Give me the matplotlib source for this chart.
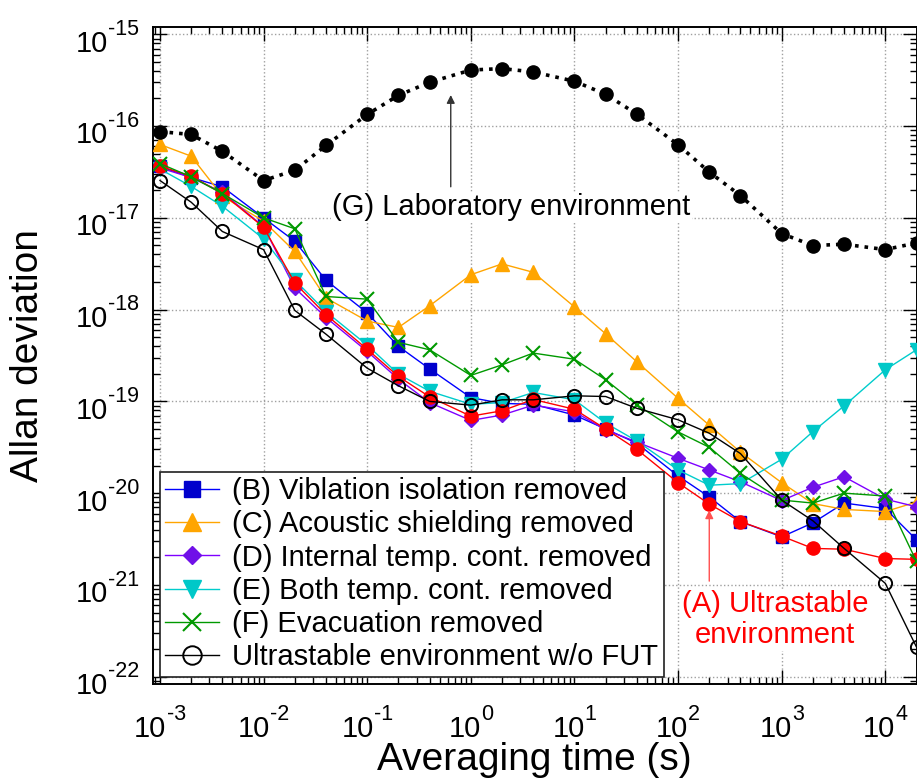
import matplotlib
matplotlib.use("Agg")
import matplotlib.pyplot as plt
from matplotlib.ticker import LogLocator, NullFormatter
from matplotlib.transforms import blended_transform_factory, offset_copy

plt.rcParams['font.family'] = ['Liberation Sans', 'DejaVu Sans']

tau = [1e-3, 2e-3, 4e-3, 1e-2, 2e-2, 4e-2, 0.1, 0.2, 0.4, 1, 2, 4, 10, 20, 40,
       100, 200, 400, 1e3, 2e3, 4e3, 1e4, 2e4]

adev_B = [3.65e-17, 2.75e-17, 2.18e-17, 1.0e-17, 5.56e-18, 2.09e-18, 9.2e-19, 3.98e-19,
          2.26e-19, 1.1e-19, 9.5e-20, 9.3e-20, 7.1e-20, 5.0e-20, 3.5e-20, 1.54e-20,
          9.1e-21, 4.9e-21, 3.34e-21, 4.75e-21, 7.8e-21, 6.8e-21, 3.1e-21]
adev_C = [6.3e-17, 4.7e-17, 1.72e-17, 9.2e-18, 4.3e-18, 1.34e-18, 7.5e-19, 6.4e-19,
          1.1e-18, 2.4e-18, 3.15e-18, 2.55e-18, 1.07e-18, 5.45e-19, 2.7e-19, 1.08e-19,
          5.5e-20, 2.8e-20, 1.3e-20, 7.7e-21, 6.65e-21, 6.3e-21, 8.0e-21]
adev_D = [3.5e-17, 2.75e-17, 1.9e-17, 8.0e-18, 1.72e-18, 8.2e-19, 3.5e-19, 1.75e-19,
          9.7e-20, 6.2e-20, 7.1e-20, 9.1e-20, 7.7e-20, 4.9e-20, 3.6e-20, 2.4e-20,
          1.79e-20, 1.33e-20, 8.3e-21, 1.16e-20, 1.51e-20, 8.6e-21, 7.1e-21]
adev_E = [3.4e-17, 2.2e-17, 1.34e-17, 5.9e-18, 2.1e-18, 9.5e-19, 4.1e-19, 1.98e-19,
          1.29e-19, 9.3e-20, 9.7e-20, 1.25e-19, 1.04e-19, 5.8e-20, 3.7e-20, 1.79e-20,
          1.22e-20, 1.27e-20, 2.34e-20, 4.68e-20, 8.93e-20, 2.21e-19, 3.65e-19]
adev_F = [3.9e-17, 2.8e-17, 1.84e-17, 1.0e-17, 7.6e-18, 1.39e-18, 1.3e-18, 4.4e-19,
          3.65e-19, 1.92e-19, 2.5e-19, 3.36e-19, 2.88e-19, 1.72e-19, 9.2e-20, 4.65e-20,
          3.16e-20, 1.64e-20, 8.4e-21, 7.8e-21, 1.0e-20, 9.3e-21, 1.8e-21]
adev_A = [3.65e-17, 2.85e-17, 1.84e-17, 7.9e-18, 1.95e-18, 8.8e-19, 3.7e-19, 1.87e-19,
          1.12e-19, 6.9e-20, 7.9e-20, 1.05e-19, 8.2e-20, 5.0e-20, 3.0e-20, 1.3e-20,
          7.6e-21, 4.9e-21, 3.4e-21, 2.5e-21, 2.45e-21, 1.94e-21, 1.9e-21]
adev_noFUT = [2.55e-17, 1.48e-17, 7.1e-18, 4.5e-18, 9.8e-19, 5.4e-19, 2.3e-19, 1.48e-19,
              1.0e-19, 9.1e-20, 1.04e-19, 1.04e-19, 1.15e-19, 1.13e-19, 8.4e-20, 6.3e-20,
              4.5e-20, 2.7e-20, 8.4e-21, 5.0e-21, 2.5e-21, 1.04e-21, 2.1e-22]
adev_G = [8.7e-17, 8.1e-17, 5.3e-17, 2.55e-17, 3.3e-17, 6.15e-17, 1.34e-16, 2.16e-16,
          3.0e-16, 4.08e-16, 4.23e-16, 3.89e-16, 3.08e-16, 2.22e-16, 1.35e-16, 6.26e-17,
          3.15e-17, 1.75e-17, 6.74e-18, 4.99e-18, 5.16e-18, 4.51e-18, 5.33e-18]

labels = ["(B) Viblation isolation removed",
          "(C) Acoustic shielding removed",
          "(D) Internal temp. cont. removed",
          "(E) Both temp. cont. removed",
          "(F) Evacuation removed",
          "Ultrastable environment w/o FUT"]

x_exponents = [-3, -2, -1, 0, 1, 2, 3, 4]
y_exponents = [-22, -21, -20, -19, -18, -17, -16, -15]

fig = plt.figure(figsize=(9.17, 7.80), dpi=100)
ax = fig.add_axes([152.7/917, 1-684/780, (916.5-152.7)/917, (684-27.3)/780])

ms = 9.5
lB, = ax.plot(tau, adev_B, '-', color='#0000ff', lw=1.0, marker='s', ms=ms*0.9,
              mfc='#0000cc', mec='#0000cc', zorder=3)
lC, = ax.plot(tau, adev_C, '-', color='#ffa500', lw=1.0, marker='^', ms=ms,
              mfc='#ffa500', mec='#ffa500', zorder=3)
lD, = ax.plot(tau, adev_D, '-', color='#7f00ff', lw=1.0, marker='D', ms=ms*0.7,
              mfc='#7010e8', mec='#7010e8', zorder=3)
lE, = ax.plot(tau, adev_E, '-', color='#00cccc', lw=1.0, marker='v', ms=ms,
              mfc='#00c8c8', mec='#00c8c8', zorder=3)
lA, = ax.plot(tau, adev_A, '-', color='#ff0000', lw=1.0, marker='o', ms=ms,
              mfc='#ff0000', mec='#ff0000', zorder=3)
lF, = ax.plot(tau, adev_F, '-', color='#009900', lw=1.0, marker='x', ms=ms,
              mew=1.5, zorder=3)
lN, = ax.plot(tau, adev_noFUT, '-', color='black', lw=1.0, marker='o', ms=ms,
              mfc='none', mec='black', mew=1.4, zorder=3)
lG, = ax.plot(tau, adev_G, ':', color='black', lw=2.6, marker='o', ms=ms,
              mfc='black', mec='black', zorder=3)

ax.set_xscale('log')
ax.set_yscale('log')
ax.set_xlim(10**-3.0703, 2e4)
ax.set_ylim(10**-22.0796, 10**-14.9237)

ax.xaxis.set_major_locator(LogLocator(base=10, numticks=20))
ax.yaxis.set_major_locator(LogLocator(base=10, numticks=20))
ax.xaxis.set_minor_locator(LogLocator(base=10, subs=range(2, 10), numticks=20))
ax.yaxis.set_minor_locator(LogLocator(base=10, subs=range(2, 10), numticks=20))
ax.xaxis.set_minor_formatter(NullFormatter())
ax.yaxis.set_minor_formatter(NullFormatter())

ax.tick_params(which='both', direction='in', top=True, right=True, width=1.0,
               labelbottom=False, labelleft=False)
ax.tick_params(which='major', length=10)
ax.tick_params(which='minor', length=5)
for s in ax.spines.values():
    s.set_linewidth(1.4)

ax.grid(True, which='major', linestyle=':', color='#a0a0a0', lw=1.0)
ax.set_axisbelow(True)

# ---- tick labels drawn as "10" + raised exponent (Arial-metric widths) ----
fs_main = 21.0
fs_sup = 15.5
px_main = fs_main * 100 / 72
px_sup = fs_sup * 100 / 72
cw = {'0': 0.556, '1': 0.556, '2': 0.556, '3': 0.556, '4': 0.556, '5': 0.556,
      '6': 0.556, '7': 0.556, '8': 0.556, '9': 0.556, '-': 0.333}
w_main = 1.112 * px_main
raise_px = 16.7

xtrans = blended_transform_factory(ax.transData, ax.transAxes)
for d in x_exponents:
    sup = str(d)
    w_sup = sum(cw[c] for c in sup) * px_sup
    left = -(w_main + w_sup) / 2
    t1 = offset_copy(xtrans, fig=fig, x=left, y=-52.7, units='dots')
    ax.text(10.0**d, 0, '10', transform=t1, ha='left', va='baseline',
            fontsize=fs_main)
    t2 = offset_copy(xtrans, fig=fig, x=left + w_main, y=-52.7 + raise_px, units='dots')
    ax.text(10.0**d, 0, sup, transform=t2, ha='left', va='baseline',
            fontsize=fs_sup)

ytrans = blended_transform_factory(ax.transAxes, ax.transData)
for d in y_exponents:
    sup = str(d)
    w_sup = sum(cw[c] for c in sup) * px_sup
    right = -13.7
    t2 = offset_copy(ytrans, fig=fig, x=right, y=-17.4 + raise_px, units='dots')
    ax.text(0, 10.0**d, sup, transform=t2, ha='right', va='baseline',
            fontsize=fs_sup)
    t1 = offset_copy(ytrans, fig=fig, x=right - w_sup, y=-17.4, units='dots')
    ax.text(0, 10.0**d, '10', transform=t1, ha='right', va='baseline',
            fontsize=fs_main)

fig.text(28/917, 1-355.6/780, 'Allan deviation', rotation=90, ha='center',
         va='center', fontsize=28)
fig.text(534.6/917, 10/780, 'Averaging time (s)', ha='center', va='baseline',
         fontsize=28)

leg = ax.legend([lB, lC, lD, lE, lF, lN], labels, loc='lower left', fontsize=21,
                frameon=True, fancybox=False, edgecolor='#202020', framealpha=1,
                borderaxespad=0.25, handlelength=1.85, handletextpad=0.45,
                labelspacing=0.18, borderpad=0.18, markerscale=1.4)
leg.get_frame().set_linewidth(1.2)
leg.set_zorder(5)

# (G) annotation
ax.annotate('', xy=(0.64, 2.18e-16), xytext=(0.64, 2.18e-17),
            arrowprops=dict(arrowstyle='-|>', color='#333333', lw=1.0,
                            mutation_scale=12, shrinkA=0, shrinkB=0), zorder=4)
ax.text(2.47, 1.07e-17, '(G) Laboratory environment', ha='center', va='baseline',
        fontsize=21, color='black', zorder=4,
        bbox=dict(facecolor='white', edgecolor='none', pad=1))

# (A) annotation
ax.annotate('', xy=(200, 6.5e-21), xytext=(200, 1.1e-21),
            arrowprops=dict(arrowstyle='-|>', color='#ff5050', lw=1.0,
                            mutation_scale=12, shrinkA=0, shrinkB=0), zorder=4)
ax.text(863, 10**(-15 - (611.7-34.3)/91.7), '(A) Ultrastable', ha='center',
        va='baseline', fontsize=21, color='red', zorder=4,
        bbox=dict(facecolor='white', edgecolor='none', pad=1))
ax.text(863, 10**(-15 - (643-34.3)/91.7), 'environment', ha='center',
        va='baseline', fontsize=21, color='red', zorder=4,
        bbox=dict(facecolor='white', edgecolor='none', pad=1))

fig.savefig('out.png', dpi=100)
